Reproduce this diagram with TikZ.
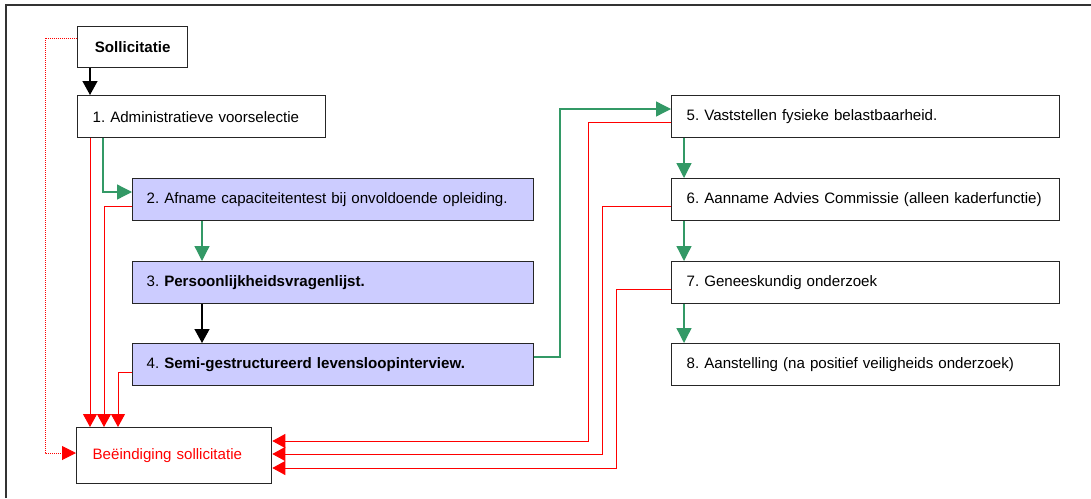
\documentclass[tikz,border=0pt]{standalone}
\usepackage{fontspec}
\setmainfont{Liberation Sans}
\usetikzlibrary{arrows.meta}
\definecolor{grn}{HTML}{339966}
\definecolor{lav}{HTML}{CCCCFF}
\definecolor{rln}{HTML}{FF3333}
\begin{document}
\frenchspacing
\begin{tikzpicture}[x=1pt,y=-1pt,
  every node/.style={font=\fontsize{15.1}{18}\selectfont},
  box/.style={draw=black!85, line width=1.3pt, inner ysep=0pt, anchor=north west, align=left},
  lbox/.style={box, fill=lav, minimum height=42pt, text width=373pt, inner xsep=14pt},
  rbox/.style={box, minimum height=42pt, text width=358pt, inner xsep=15pt},
  ga/.style={draw=grn, line width=1.3pt, -{Triangle[length=15pt,width=15pt]}, color=grn},
  ba/.style={draw=black, line width=1.3pt, -{Triangle[length=14pt,width=15pt]}},
  ra/.style={draw=rln, line width=1pt, -{Triangle[length=13pt,width=14pt]}, color=red},
]
\useasboundingbox (0,0) rectangle (1091,498);
\fill[white] (0,0) rectangle (1091,498);
\draw[line width=1.5pt, black!80] (6,498) -- (6,5) -- (1091,5);

\node[box, minimum width=110pt, minimum height=41pt, align=center, inner xsep=0pt,
      font=\fontsize{15.1}{18}\selectfont\bfseries] (sol) at (77,26) {Sollicitatie};
\node[box, minimum height=42pt, text width=218pt, inner xsep=15pt] (b1) at (77,95)
  {\frenchspacing 1. Administratieve voorselectie};
\node[lbox] (b2) at (132,178) {\frenchspacing 2. Afname capaciteitentest bij onvoldoende opleiding.};
\node[lbox] (b3) at (132,261) {\frenchspacing 3. \textbf{Persoonlijkheidsvragenlijst.}};
\node[lbox] (b4) at (132,343) {\frenchspacing 4. \textbf{Semi-gestructureerd levensloopinterview.}};
\node[rbox] (b5) at (671,95) {\frenchspacing 5. Vaststellen fysieke belastbaarheid.};
\node[rbox] (b6) at (671,178) {\frenchspacing 6. Aanname Advies Commissie (alleen kaderfunctie)};
\node[rbox] (b7) at (671,261) {\frenchspacing 7. Geneeskundig onderzoek};
\node[rbox] (b8) at (671,343) {\frenchspacing 8. Aanstelling (na positief veiligheids onderzoek)};
\node[box, minimum height=56pt, text width=163pt, inner xsep=16pt, text=red] (end) at (76,427)
  {Beëindiging sollicitatie};

% black arrows
\draw[ba] (sol.south -| 90,0) -- (b1.north -| 90,0);
\draw[ba] (b3.south -| 202,0) -- (b4.north -| 202,0);

% green arrows
\draw[ga] (b1.south -| 103,0) |- (b2.west |- 0,192);
\draw[ga] (b2.south -| 202,0) -- (b3.north -| 202,0);
\draw[ga] (b4.east |- 0,357) -- (560,357) |- (b5.west |- 0,109);
\draw[ga] (b5.south -| 684,0) -- (b6.north -| 684,0);
\draw[ga] (b6.south -| 684,0) -- (b7.north -| 684,0);
\draw[ga] (b7.south -| 684,0) -- (b8.north -| 684,0);

% red arrows
\draw[ra] (b1.south -| 90,0) -- (end.north -| 90,0);
\draw[ra] (b2.west |- 0,206) -| (end.north -| 104,0);
\draw[ra] (b4.west |- 0,372) -| (end.north -| 118,0);
\draw[ra] (b5.west |- 0,122) -| (588,441) -- (end.east |- 0,441);
\draw[ra] (b6.west |- 0,206) -| (602,454) -- (end.east |- 0,454);
\draw[ra] (b7.west |- 0,289) -| (616,468) -- (end.east |- 0,468);

% dotted
\draw[draw=red!50, line width=1pt, dash pattern=on 1pt off 1pt,
      -{Triangle[length=14pt,width=14pt]}, color=red]
  (sol.west |- 0,38) -| (45,453) -- (end.west |- 0,453);
\end{tikzpicture}
\end{document}
